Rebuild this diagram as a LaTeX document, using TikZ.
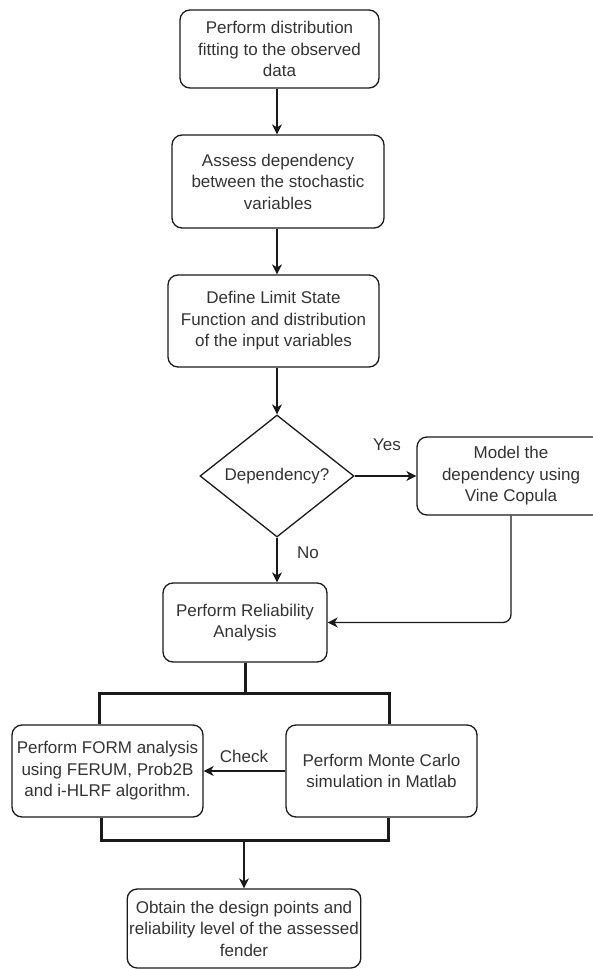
\documentclass[tikz,border=0pt]{standalone}
\usepackage{fontspec}
\setmainfont{Liberation Sans}
\usetikzlibrary{shapes.geometric, arrows.meta, positioning, calc}

\definecolor{FlowInk}{HTML}{1A1A1A}
\definecolor{FlowText}{HTML}{333333}

\begin{document}
\begin{tikzpicture}[
    x=1pt, y=-1pt,
    box/.style={draw=FlowInk, rounded corners=10pt, align=center, inner sep=2pt, line width=1.3pt, text=FlowText, font=\fontsize{17}{21.5}\selectfont},
    decision/.style={draw=FlowInk, diamond, aspect=1.26, inner sep=0pt, minimum width=154pt, minimum height=122pt, line width=1.3pt, text=FlowText, font=\fontsize{17}{21.5}\selectfont},
    lbl/.style={text=FlowText, font=\fontsize{17}{21.5}\selectfont},
    arr/.style={-{Stealth[length=10pt, width=10pt, inset=3pt]}, line width=1.3pt, FlowInk},
    bus/.style={line width=3pt, FlowInk, line join=miter},
]
    \useasboundingbox (0,0) rectangle (592,969);

    % main column
    \node[box, minimum width=199pt, minimum height=78pt] (fit) at (279.5,49) {Perform distribution\\fitting to the observed\\data};
    \node[box, minimum width=212pt, minimum height=93pt] (dep) at (278,181.5) {Assess dependency\\between the stochastic\\variables};
    \node[box, minimum width=211pt, minimum height=92pt] (lsf) at (273.5,321) {Define Limit State\\Function and distribution\\of the input variables};
    \node[decision] (dec) at (277,476) {Dependency?};
    \node[box, minimum width=188pt, minimum height=78pt] (vine) at (511,476) {Model the\\dependency using\\Vine Copula};
    \node[box, minimum width=164pt, minimum height=79pt] (rel) at (245,622.5) {Perform Reliability\\Analysis};

    % the two analyses
    \node[box, minimum width=191pt, minimum height=92pt] (form) at (107.5,771) {Perform FORM analysis\\using FERUM, Prob2B\\and i-HLRF algorithm.};
    \node[box, minimum width=191pt, minimum height=92pt] (mcs) at (381.5,771) {Perform Monte Carlo\\simulation in Matlab};
    \node[box, minimum width=232pt, minimum height=79pt] (out) at (244,928.5) {Obtain the design points and\\reliability level of the assessed\\fender};

    % edge labels
    \node[lbl] (yes) at (387,445) {Yes};
    \node[lbl] (no) at (308,553) {No};
    \node[lbl] (chk) at (244,756) {Check};

    % split / join points of the thick bars
    \coordinate (splitL) at (99,693);
    \coordinate (splitR) at (389,693);
    \coordinate (joinL) at (101,840);
    \coordinate (joinR) at (388,840);

    \draw[arr] (fit.south -| dec.north) -- (dep.north -| dec.north);
    \draw[arr] (dep.south -| dec.north) -- (lsf.north -| dec.north);
    \draw[arr] (lsf.south -| dec.north) -- (dec.north);
    \draw[arr] (dec.east) -- (vine.west);
    \draw[arr] (dec.south) -- (dec.south |- rel.north);
    \draw[arr, rounded corners=8pt] (vine.south) |- (rel.east);

    \draw[bus] (rel.south) -- (rel.south |- splitL);
    \draw[bus] (form.north -| splitL) -- (splitL) -- (splitR) -- (mcs.north -| splitR);
    \draw[arr] (mcs.west) -- (form.east);
    \draw[bus] (form.south -| joinL) -- (joinL) -- (joinR) -- (mcs.south -| joinR);
    \draw[arr] (out.north |- joinL) -- (out.north);
\end{tikzpicture}
\end{document}
